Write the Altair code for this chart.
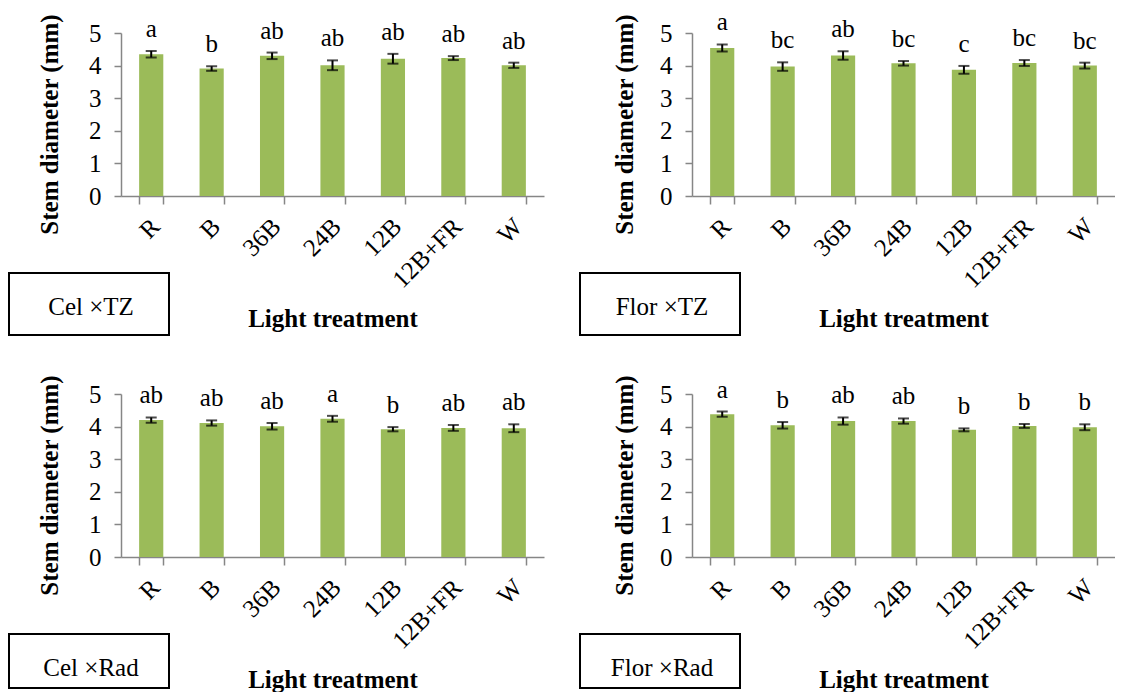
import altair as alt
import pandas as pd

treatments = ["R", "B", "36B", "24B", "12B", "12B+FR", "W"]

cel_tz_mean = [4.35, 3.91, 4.30, 4.01, 4.21, 4.23, 4.01]
cel_tz_err = [0.10, 0.07, 0.10, 0.15, 0.15, 0.06, 0.08]
cel_tz_letters = ["a", "b", "ab", "ab", "ab", "ab", "ab"]

flor_tz_mean = [4.54, 3.97, 4.31, 4.07, 3.87, 4.08, 4.00]
flor_tz_err = [0.11, 0.13, 0.13, 0.07, 0.12, 0.09, 0.09]
flor_tz_letters = ["a", "bc", "ab", "bc", "c", "bc", "bc"]

cel_rad_mean = [4.20, 4.11, 4.01, 4.24, 3.92, 3.96, 3.95]
cel_rad_err = [0.08, 0.08, 0.10, 0.09, 0.065, 0.09, 0.12]
cel_rad_letters = ["ab", "ab", "ab", "a", "b", "ab", "ab"]

flor_rad_mean = [4.38, 4.04, 4.17, 4.17, 3.90, 4.02, 3.98]
flor_rad_err = [0.08, 0.10, 0.11, 0.08, 0.045, 0.06, 0.09]
flor_rad_letters = ["a", "b", "ab", "ab", "b", "b", "b"]

FONT = "Liberation Serif"
GRAY = "#868686"
GREEN = "#9BBB59"
W = 423
H = 163
FS = 25


def panel(mean, err, letters, label, title_x, box_bottom):
    df = pd.DataFrame({
        "t": treatments,
        "m": mean,
        "lo": [m - e for m, e in zip(mean, err)],
        "hi": [m + e for m, e in zip(mean, err)],
        "let": letters,
    })
    xscale = alt.Scale(paddingInner=0.6, paddingOuter=0.3)
    yscale = alt.Scale(domain=[0, 5], nice=False, zero=True)
    x_axis = alt.Axis(
        title="Light treatment", titleFont=FONT, titleFontSize=FS,
        titleFontWeight="bold", titleColor="black", titleY=130,
        titleBaseline="alphabetic",
        labelAngle=-45, labelAlign="right", labelBaseline="middle",
        labelFont=FONT, labelFontSize=FS, labelColor="black", labelPadding=18,
        labelOffset=4,
        tickBand="extent", tickExtra=True, tickSize=8, tickColor=GRAY,
        tickWidth=1.5, domainColor=GRAY, domainWidth=1.5, grid=False,
    )
    y_axis = alt.Axis(
        title="Stem diameter (mm)", titleFont=FONT, titleFontSize=FS,
        titleFontWeight="bold", titleColor="black", titleAngle=270,
        titleX=title_x, titleY=91, titleAlign="center",
        titleBaseline="alphabetic",
        values=[0, 1, 2, 3, 4, 5], labelFont=FONT, labelFontSize=FS,
        labelColor="black", labelPadding=13, tickSize=7, tickColor=GRAY,
        tickWidth=1.5, domainColor=GRAY, domainWidth=1.5, grid=False,
    )
    base = alt.Chart(df)
    xenc = alt.X("t:N", sort=treatments, scale=xscale, axis=x_axis)

    def yenc(field):
        return alt.Y(field, type="quantitative", scale=yscale, axis=y_axis)

    bars = base.mark_bar(color=GREEN).encode(x=xenc, y=yenc("m"))
    rule = base.mark_rule(color="black", strokeWidth=2).encode(
        x=xenc, y=yenc("lo"), y2="hi:Q"
    )
    cap_lo = base.mark_tick(color="black", size=11, thickness=2).encode(
        x=xenc, y=yenc("lo")
    )
    cap_hi = base.mark_tick(color="black", size=11, thickness=2).encode(
        x=xenc, y=yenc("hi")
    )
    text = base.mark_text(
        dy=-14, baseline="alphabetic", font=FONT, fontSize=FS, color="black"
    ).encode(x=xenc, y=yenc("hi"), text="let:N")
    lab = alt.Chart(pd.DataFrame({"label": [label]}))
    box = lab.mark_rect(fill="white", stroke="black", strokeWidth=2).encode(
        x=alt.value(-112), x2=alt.value(48), y=alt.value(240),
        y2=alt.value(box_bottom)
    )
    box_text = lab.mark_text(
        font=FONT, fontSize=FS, color="black", baseline="alphabetic", align="center"
    ).encode(x=alt.value(-30), y=alt.value(282), text="label:N")
    return alt.layer(bars, rule, cap_lo, cap_hi, text, box, box_text).properties(
        width=W, height=H
    )


p1 = panel(cel_tz_mean, cel_tz_err, cel_tz_letters, "Cel \u00d7TZ", -64, 302)
p2 = panel(flor_tz_mean, flor_tz_err, flor_tz_letters, "Flor \u00d7TZ", -60, 302)
p3 = panel(cel_rad_mean, cel_rad_err, cel_rad_letters, "Cel \u00d7Rad", -64, 294)
p4 = panel(flor_rad_mean, flor_rad_err, flor_rad_letters, "Flor \u00d7Rad", -60, 294)

row1 = alt.hconcat(p1, p2, spacing=148, bounds="flush")
row2 = alt.hconcat(p3, p4, spacing=148, bounds="flush")
chart = alt.vconcat(row1, row2, spacing=361, bounds="flush").properties(
    padding={"left": 0, "top": 2, "right": 0, "bottom": 0}
).configure(background="white").configure_view(stroke=None)

chart.save("out.html", embed_options={"renderer": "svg", "actions": False})
